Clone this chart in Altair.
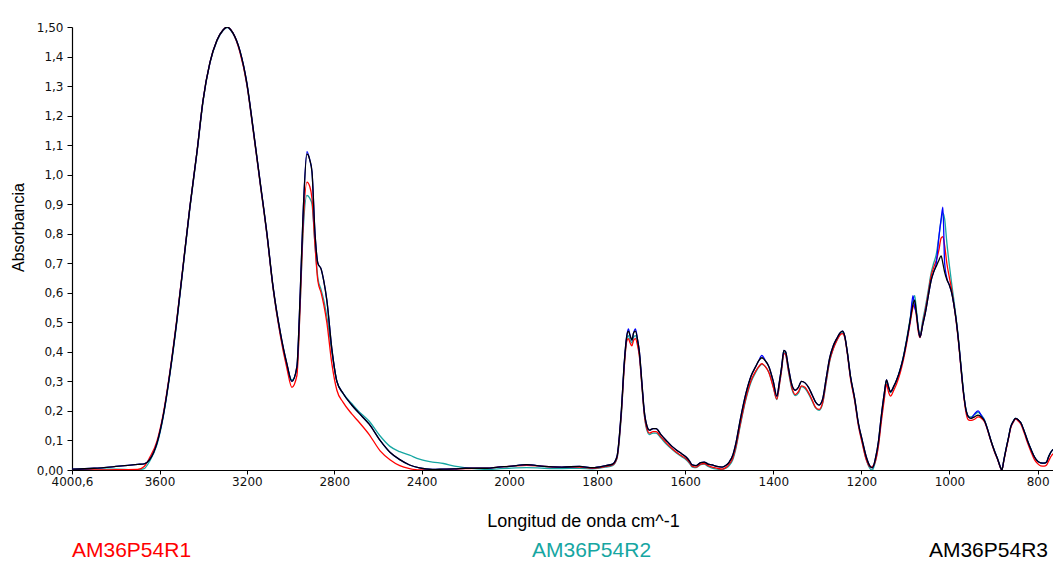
import altair as alt
import pandas as pd

# ---------------- data ----------------
wavenumber = [
    # 4000 - 2000 cm^-1 (compressed part of the axis)
    4000.6, 3900, 3800, 3700, 3670, 3645, 3612, 3584, 3552, 3520,
    3492, 3461, 3428, 3401, 3369, 3337, 3309, 3291, 3264, 3232,
    3200, 3172, 3140, 3108, 3080, 3048, 3017, 2994, 2971, 2957,
    2943, 2925, 2912, 2902, 2888, 2875, 2860, 2848, 2834, 2811,
    2788, 2760, 2720, 2690, 2640, 2590, 2545, 2500, 2455, 2410,
    2350, 2300, 2250, 2200, 2150, 2100, 2050, 2000,
    # 2000 - 765 cm^-1 (expanded part of the axis)
    1960, 1920, 1880, 1840, 1810, 1780, 1765, 1755, 1745, 1738,
    1733, 1729, 1725, 1721, 1717, 1713, 1708, 1704, 1698, 1693,
    1687, 1681, 1673, 1666, 1655, 1643, 1630, 1620, 1608, 1598,
    1590, 1584, 1575, 1565, 1557, 1548, 1539, 1528, 1516, 1508,
    1500, 1492, 1485, 1475, 1462, 1450, 1440, 1433, 1426, 1418,
    1410, 1400, 1392, 1386, 1381, 1376, 1372, 1366, 1358, 1350,
    1343, 1336, 1328, 1320, 1312, 1304, 1296, 1288, 1280, 1272,
    1264, 1256, 1248, 1243, 1238, 1232, 1225, 1215, 1207, 1198,
    1189, 1180, 1175, 1168, 1161, 1155, 1148, 1143, 1138, 1134,
    1126, 1120, 1112, 1105, 1097, 1089, 1083, 1079, 1075, 1071,
    1067, 1061, 1055, 1048, 1042, 1036, 1030, 1024, 1019, 1015,
    1011, 1006, 1000, 995, 990, 985, 979, 974, 968, 962,
    957, 951, 943, 935, 928, 920, 913, 906, 898, 890,
    884, 881, 877, 872, 866, 861, 855, 850, 844, 838,
    830, 823, 815, 807, 800, 793, 785, 780, 775, 770,
    765,
]

# AM36P54R1 (red)
r1 = [
    0.000, 0.000, 0.001, 0.002, 0.012, 0.042, 0.097, 0.186, 0.335, 0.515,
    0.692, 0.890, 1.080, 1.250, 1.380, 1.455, 1.490, 1.500, 1.480, 1.415,
    1.305, 1.155, 0.975, 0.795, 0.615, 0.460, 0.345, 0.280, 0.320, 0.540,
    0.820, 0.975, 0.960, 0.920, 0.760, 0.640, 0.600, 0.560, 0.500, 0.360,
    0.270, 0.230, 0.190, 0.165, 0.120, 0.065, 0.035, 0.015, 0.005, 0.000,
    0.000, 0.002, 0.003, 0.005, 0.006, 0.006, 0.010, 0.012,
    0.016, 0.012, 0.009, 0.010, 0.006, 0.012, 0.017, 0.040, 0.190, 0.355,
    0.435, 0.445, 0.430, 0.420, 0.440, 0.445, 0.420, 0.385, 0.280, 0.190,
    0.140, 0.125, 0.130, 0.130, 0.112, 0.092, 0.073, 0.060, 0.048, 0.038,
    0.025, 0.012, 0.010, 0.020, 0.022, 0.015, 0.010, 0.006, 0.003, 0.008,
    0.020, 0.040, 0.078, 0.155, 0.245, 0.305, 0.335, 0.350, 0.360, 0.350,
    0.330, 0.280, 0.240, 0.290, 0.340, 0.395, 0.390, 0.340, 0.280, 0.255,
    0.265, 0.285, 0.280, 0.262, 0.238, 0.212, 0.205, 0.228, 0.300, 0.370,
    0.410, 0.438, 0.458, 0.462, 0.450, 0.395, 0.312, 0.232, 0.152, 0.090,
    0.035, 0.010, 0.012, 0.030, 0.085, 0.160, 0.240, 0.290, 0.262, 0.250,
    0.272, 0.292, 0.328, 0.370, 0.430, 0.500, 0.550, 0.560, 0.520, 0.470,
    0.448, 0.495, 0.540, 0.600, 0.655, 0.685, 0.710, 0.745, 0.785, 0.790,
    0.760, 0.700, 0.650, 0.610, 0.560, 0.505, 0.425, 0.345, 0.255, 0.190,
    0.170, 0.168, 0.172, 0.180, 0.176, 0.162, 0.132, 0.098, 0.062, 0.032,
    0.006, 0.000, 0.028, 0.065, 0.106, 0.142, 0.162, 0.172, 0.166, 0.155,
    0.124, 0.093, 0.062, 0.035, 0.022, 0.014, 0.013, 0.016, 0.030, 0.045,
    0.055,
]

# AM36P54R2 (teal)
r2 = [
    0.000, 0.004, 0.003, 0.001, 0.005, 0.030, 0.085, 0.175, 0.325, 0.505,
    0.685, 0.885, 1.075, 1.245, 1.378, 1.453, 1.488, 1.498, 1.478, 1.418,
    1.305, 1.155, 0.975, 0.795, 0.615, 0.465, 0.355, 0.305, 0.340, 0.540,
    0.800, 0.930, 0.920, 0.900, 0.760, 0.650, 0.610, 0.575, 0.520, 0.400,
    0.300, 0.260, 0.225, 0.200, 0.165, 0.115, 0.080, 0.062, 0.050, 0.037,
    0.027, 0.022, 0.013, 0.008, 0.004, 0.002, 0.004, 0.006,
    0.008, 0.006, 0.005, 0.006, 0.004, 0.010, 0.015, 0.038, 0.185, 0.360,
    0.440, 0.455, 0.440, 0.430, 0.450, 0.455, 0.430, 0.390, 0.280, 0.190,
    0.135, 0.120, 0.125, 0.125, 0.108, 0.088, 0.070, 0.058, 0.045, 0.035,
    0.022, 0.010, 0.008, 0.018, 0.020, 0.012, 0.006, 0.003, 0.002, 0.006,
    0.015, 0.035, 0.072, 0.150, 0.240, 0.300, 0.330, 0.348, 0.358, 0.350,
    0.330, 0.282, 0.238, 0.290, 0.342, 0.398, 0.392, 0.338, 0.275, 0.252,
    0.260, 0.282, 0.276, 0.258, 0.234, 0.210, 0.202, 0.225, 0.295, 0.368,
    0.410, 0.438, 0.460, 0.465, 0.452, 0.398, 0.316, 0.236, 0.155, 0.094,
    0.036, 0.004, 0.000, 0.030, 0.090, 0.170, 0.250, 0.300, 0.275, 0.262,
    0.282, 0.304, 0.340, 0.382, 0.445, 0.515, 0.575, 0.590, 0.540, 0.485,
    0.455, 0.505, 0.550, 0.610, 0.665, 0.700, 0.730, 0.790, 0.845, 0.870,
    0.850, 0.770, 0.690, 0.630, 0.575, 0.515, 0.435, 0.355, 0.265, 0.200,
    0.182, 0.180, 0.188, 0.195, 0.186, 0.168, 0.136, 0.100, 0.065, 0.034,
    0.008, 0.000, 0.030, 0.068, 0.110, 0.146, 0.165, 0.175, 0.170, 0.160,
    0.130, 0.100, 0.070, 0.044, 0.030, 0.024, 0.023, 0.026, 0.045, 0.060,
    0.070,
]

# AM36P54R3 (black)
r3 = [
    0.003, 0.006, 0.012, 0.019, 0.021, 0.035, 0.090, 0.180, 0.330, 0.510,
    0.690, 0.890, 1.080, 1.250, 1.380, 1.455, 1.490, 1.500, 1.480, 1.420,
    1.310, 1.160, 0.980, 0.800, 0.620, 0.470, 0.360, 0.300, 0.350, 0.575,
    0.860, 1.070, 1.050, 1.010, 0.800, 0.700, 0.680, 0.640, 0.575, 0.410,
    0.300, 0.260, 0.220, 0.195, 0.155, 0.100, 0.060, 0.035, 0.017, 0.007,
    0.002, 0.003, 0.004, 0.006, 0.006, 0.006, 0.010, 0.012,
    0.018, 0.012, 0.010, 0.012, 0.008, 0.015, 0.020, 0.045, 0.200, 0.370,
    0.450, 0.470, 0.455, 0.440, 0.465, 0.470, 0.440, 0.400, 0.290, 0.200,
    0.150, 0.135, 0.140, 0.140, 0.120, 0.100, 0.080, 0.068, 0.055, 0.044,
    0.030, 0.017, 0.015, 0.025, 0.027, 0.020, 0.017, 0.012, 0.010, 0.015,
    0.027, 0.050, 0.090, 0.170, 0.260, 0.320, 0.350, 0.370, 0.380, 0.370,
    0.350, 0.300, 0.250, 0.300, 0.350, 0.405, 0.400, 0.350, 0.290, 0.270,
    0.280, 0.300, 0.295, 0.280, 0.255, 0.230, 0.220, 0.240, 0.310, 0.380,
    0.420, 0.445, 0.465, 0.470, 0.455, 0.400, 0.320, 0.240, 0.160, 0.100,
    0.045, 0.012, 0.007, 0.040, 0.100, 0.180, 0.260, 0.305, 0.280, 0.265,
    0.285, 0.305, 0.340, 0.380, 0.440, 0.510, 0.560, 0.575, 0.530, 0.480,
    0.450, 0.490, 0.530, 0.590, 0.640, 0.670, 0.690, 0.710, 0.725, 0.700,
    0.670, 0.645, 0.625, 0.600, 0.560, 0.510, 0.430, 0.350, 0.260, 0.200,
    0.180, 0.175, 0.180, 0.186, 0.180, 0.165, 0.135, 0.100, 0.065, 0.034,
    0.008, 0.000, 0.030, 0.068, 0.110, 0.146, 0.165, 0.175, 0.170, 0.160,
    0.130, 0.100, 0.070, 0.044, 0.030, 0.024, 0.023, 0.026, 0.045, 0.060,
    0.070,
]

# fourth (blue) trace, mostly hidden under the black one
r4 = [
    0.003, 0.006, 0.012, 0.019, 0.021, 0.035, 0.090, 0.180, 0.330, 0.510,
    0.690, 0.890, 1.080, 1.250, 1.380, 1.455, 1.490, 1.500, 1.480, 1.420,
    1.310, 1.160, 0.980, 0.800, 0.620, 0.470, 0.360, 0.300, 0.350, 0.575,
    0.860, 1.078, 1.050, 1.010, 0.800, 0.700, 0.680, 0.640, 0.575, 0.410,
    0.300, 0.260, 0.220, 0.195, 0.155, 0.100, 0.060, 0.035, 0.017, 0.007,
    0.002, 0.003, 0.004, 0.006, 0.006, 0.006, 0.010, 0.012,
    0.018, 0.012, 0.010, 0.012, 0.008, 0.015, 0.020, 0.045, 0.200, 0.370,
    0.450, 0.478, 0.455, 0.440, 0.465, 0.478, 0.440, 0.400, 0.290, 0.200,
    0.150, 0.135, 0.140, 0.140, 0.120, 0.100, 0.080, 0.068, 0.055, 0.044,
    0.030, 0.017, 0.015, 0.025, 0.027, 0.020, 0.017, 0.012, 0.010, 0.015,
    0.027, 0.050, 0.090, 0.170, 0.260, 0.320, 0.350, 0.370, 0.388, 0.370,
    0.350, 0.300, 0.250, 0.300, 0.350, 0.405, 0.400, 0.350, 0.290, 0.270,
    0.280, 0.300, 0.295, 0.280, 0.255, 0.230, 0.220, 0.240, 0.310, 0.380,
    0.420, 0.445, 0.465, 0.470, 0.455, 0.400, 0.320, 0.240, 0.160, 0.100,
    0.045, 0.012, 0.007, 0.040, 0.100, 0.180, 0.260, 0.305, 0.280, 0.265,
    0.285, 0.305, 0.340, 0.380, 0.440, 0.510, 0.590, 0.550, 0.530, 0.480,
    0.450, 0.490, 0.530, 0.590, 0.640, 0.670, 0.700, 0.790, 0.850, 0.890,
    0.700, 0.650, 0.625, 0.600, 0.560, 0.510, 0.430, 0.350, 0.260, 0.200,
    0.180, 0.175, 0.190, 0.200, 0.185, 0.165, 0.135, 0.100, 0.065, 0.034,
    0.008, 0.000, 0.030, 0.068, 0.110, 0.146, 0.165, 0.175, 0.170, 0.160,
    0.130, 0.100, 0.070, 0.044, 0.030, 0.024, 0.023, 0.026, 0.045, 0.060,
    0.070,
]

series_names = ["AM36P54R1", "AM36P54R2", "AM36P54R3", "AM36P54 (4)"]
series_colors = ["#ff0000", "#16a6a2", "#000000", "#0000ff"]
draw_order = ["AM36P54R2", "AM36P54R1", "AM36P54 (4)", "AM36P54R3"]

x_ticks = [4000.6, 3600, 3200, 2800, 2400, 2000, 1800, 1600, 1400, 1200, 1000, 800]
y_ticks = [0, 0.1, 0.2, 0.3, 0.4, 0.5, 0.6, 0.7, 0.8, 0.9, 1.0, 1.1, 1.2, 1.3, 1.4, 1.5]

# ---------------- table ----------------
frames = []
for name, vals in zip(series_names, [r1, r2, r3, r4]):
    frames.append(pd.DataFrame({"wn": wavenumber, "absorb": vals, "series": name}))
df = pd.concat(frames, ignore_index=True)

W, H = 981, 443

x_scale = alt.Scale(domain=[4000.6, 2000, 765], range=[0, 437, W], nice=False, zero=False)
y_scale = alt.Scale(domain=[0, 1.5], nice=False, zero=True)
color_scale = alt.Scale(domain=series_names, range=series_colors)

x_axis = alt.Axis(
    values=x_ticks,
    labelExpr="datum.value > 4000 ? '4000,6' : format(datum.value, 'd')",
    title="Longitud de onda cm^-1",
    titleFont="Liberation Sans", titleFontSize=18, titleFontWeight="normal",
    titleColor="#000000", titleX=511, titleY=56, titleAlign="center",
    titleBaseline="alphabetic",
    labelFont="DejaVu Sans", labelFontSize=12, labelColor="#111111",
    labelPadding=2, labelFlush=False, labelOverlap=False,
    tickSize=4, tickColor="#000000", domainColor="#000000", domainWidth=1.2,
    grid=False,
)
y_axis = alt.Axis(
    values=y_ticks,
    labelExpr="datum.value == 0 ? '0,00' : (datum.value > 1.45 ? '1,50' : replace(format(datum.value, '.1f'), '.', ','))",
    title="Absorbancia",
    titleFont="Liberation Sans", titleFontSize=16, titleFontWeight="normal",
    titleColor="#000000", titleX=-54, titleY=200, titleAngle=270,
    titleAlign="center", titleBaseline="middle",
    labelFont="DejaVu Sans", labelFontSize=12, labelColor="#111111",
    labelPadding=4, labelFlush=False, labelOverlap=False,
    tickSize=5, tickColor="#000000", domainColor="#000000", domainWidth=1.2,
    grid=False,
)

base = alt.Chart(df)
layers = []
for name in draw_order:
    layers.append(
        base.transform_filter(alt.datum.series == name)
        .mark_line(strokeWidth=1.3, clip=True, interpolate="monotone")
        .encode(
            x=alt.X("wn:Q", scale=x_scale, axis=x_axis),
            y=alt.Y("absorb:Q", scale=y_scale, axis=y_axis),
            color=alt.Color("series:N", scale=color_scale, legend=None),
        )
    )

# sample names written under the chart in the colours of their traces
label_specs = [
    ("AM36P54R1", series_colors[0], 0, "left"),
    ("AM36P54R2", series_colors[1], 460, "left"),
    ("AM36P54R3", series_colors[2], 976, "right"),
]
for text, col, px, al in label_specs:
    layers.append(
        alt.Chart(pd.DataFrame({"label": [text]}))
        .mark_text(font="Liberation Sans", fontSize=21, color=col, align=al, baseline="middle")
        .encode(x=alt.value(px), y=alt.value(524), text="label:N")
    )

chart = (
    alt.layer(*layers)
    .properties(
        width=W, height=H,
        autosize=alt.AutoSizeParams(type="none"),
        padding={"left": 72, "top": 27, "right": 0, "bottom": 96},
        background="#ffffff",
    )
    .configure_view(stroke=None)
)

chart.save("out.html", embed_options={"renderer": "svg", "actions": False})
